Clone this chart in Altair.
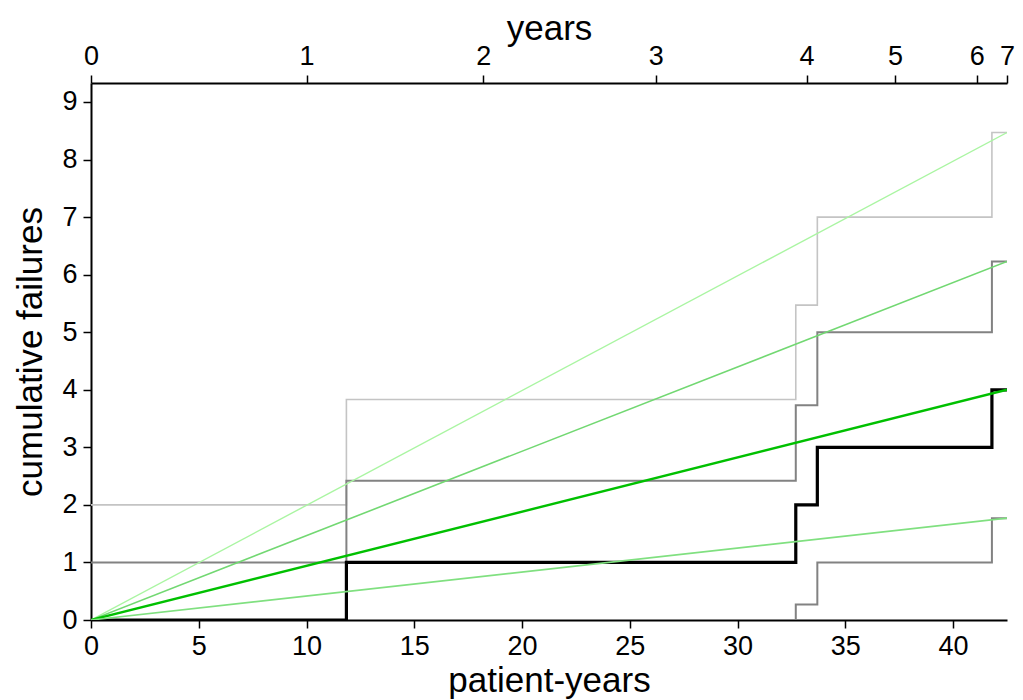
import json
import altair as alt
import pandas as pd

# ---- data ----
step_x = [0, 11.85, 32.7, 33.7, 41.8, 42.5]          # patient-years at each event
observed = [0, 1, 2, 3, 4, 4]                          # cumulative failures
upper_outer = [2, 3.83, 5.47, 7.0, 8.47, 8.47]         # light grey band limit
upper_inner = [1, 2.42, 3.73, 5.0, 6.23, 6.23]         # mid grey band upper
lower_inner = [0, 0, 0.27, 1.0, 1.77, 1.77]            # mid grey band lower

line_end_x = 42.5
line_end_y = [8.47, 6.23, 4.0, 1.77]
line_colors = ["#aaf5a2", "#72d872", "#00c000", "#80e080"]
line_widths = [1.4, 1.6, 2.4, 1.6]

x_ticks = [0, 5, 10, 15, 20, 25, 30, 35, 40]
y_ticks = [0, 1, 2, 3, 4, 5, 6, 7, 8, 9]
years_pos = [0, 10.0, 18.2, 26.2, 33.2, 37.3, 41.1, 42.5]
years_labels = ["0", "1", "2", "3", "4", "5", "6", "7"]

X_MAX = 42.5
Y_MAX = 9.33
FONT = "Liberation Sans"

xs = alt.Scale(domain=[0, X_MAX], nice=False, zero=False)
ys = alt.Scale(domain=[0, Y_MAX], nice=False, zero=False)

common_axis = dict(
    labelFont=FONT, titleFont=FONT, labelFontSize=27, titleFontSize=35,
    titleFontWeight="normal", labelColor="black", titleColor="black",
    domainColor="black", domainWidth=2, tickColor="black", tickWidth=1.5,
    tickSize=8, grid=False, labelOverlap=False, labelFlush=False,
)

y_axis = alt.Axis(values=y_ticks, title="cumulative failures", orient="left",
                  labelPadding=6, titlePadding=13, **common_axis)
x_bottom = alt.Axis(values=x_ticks, title="patient-years", orient="bottom",
                    labelPadding=5, titlePadding=4, **common_axis)
label_expr = "%s[indexof(%s, datum.value)]" % (json.dumps(years_labels), json.dumps(years_pos))
x_top = alt.Axis(values=years_pos, title="years", orient="top", labelExpr=label_expr,
                 labelPadding=5, titlePadding=-4, **common_axis)


def step_layer(vals, color, width, axis=None):
    df = pd.DataFrame({"x": step_x, "y": vals})
    return alt.Chart(df).mark_line(
        interpolate="step-after", color=color, strokeWidth=width,
        strokeCap="butt", strokeJoin="miter", clip=True,
    ).encode(
        x=alt.X("x:Q", scale=xs, axis=axis),
        y=alt.Y("y:Q", scale=ys, axis=y_axis),
    )


def green_layer(i, axis=None):
    df = pd.DataFrame({"x": [0, line_end_x], "y": [0, line_end_y[i]]})
    return alt.Chart(df).mark_line(
        color=line_colors[i], strokeWidth=line_widths[i], clip=True,
    ).encode(
        x=alt.X("x:Q", scale=xs, axis=axis),
        y=alt.Y("y:Q", scale=ys, axis=y_axis),
    )


layers = [
    step_layer(upper_outer, "#c4c4c4", 1.6, axis=x_bottom),
    step_layer(upper_inner, "#828282", 2.0),
    step_layer(lower_inner, "#828282", 2.0),
    step_layer(observed, "black", 3.2),
    green_layer(0, axis=x_top),
    green_layer(1),
    green_layer(2),
    green_layer(3),
]

chart = alt.layer(*layers).resolve_scale(x="independent").resolve_axis(x="independent").properties(
    width=916, height=537,
    autosize=alt.AutoSizeParams(type="none"),
    padding={"left": 83, "top": 75, "right": 8, "bottom": 88},
    background="white",
).configure_view(stroke=None)

chart.save("out.html", embed_options={"renderer": "svg", "actions": False})
